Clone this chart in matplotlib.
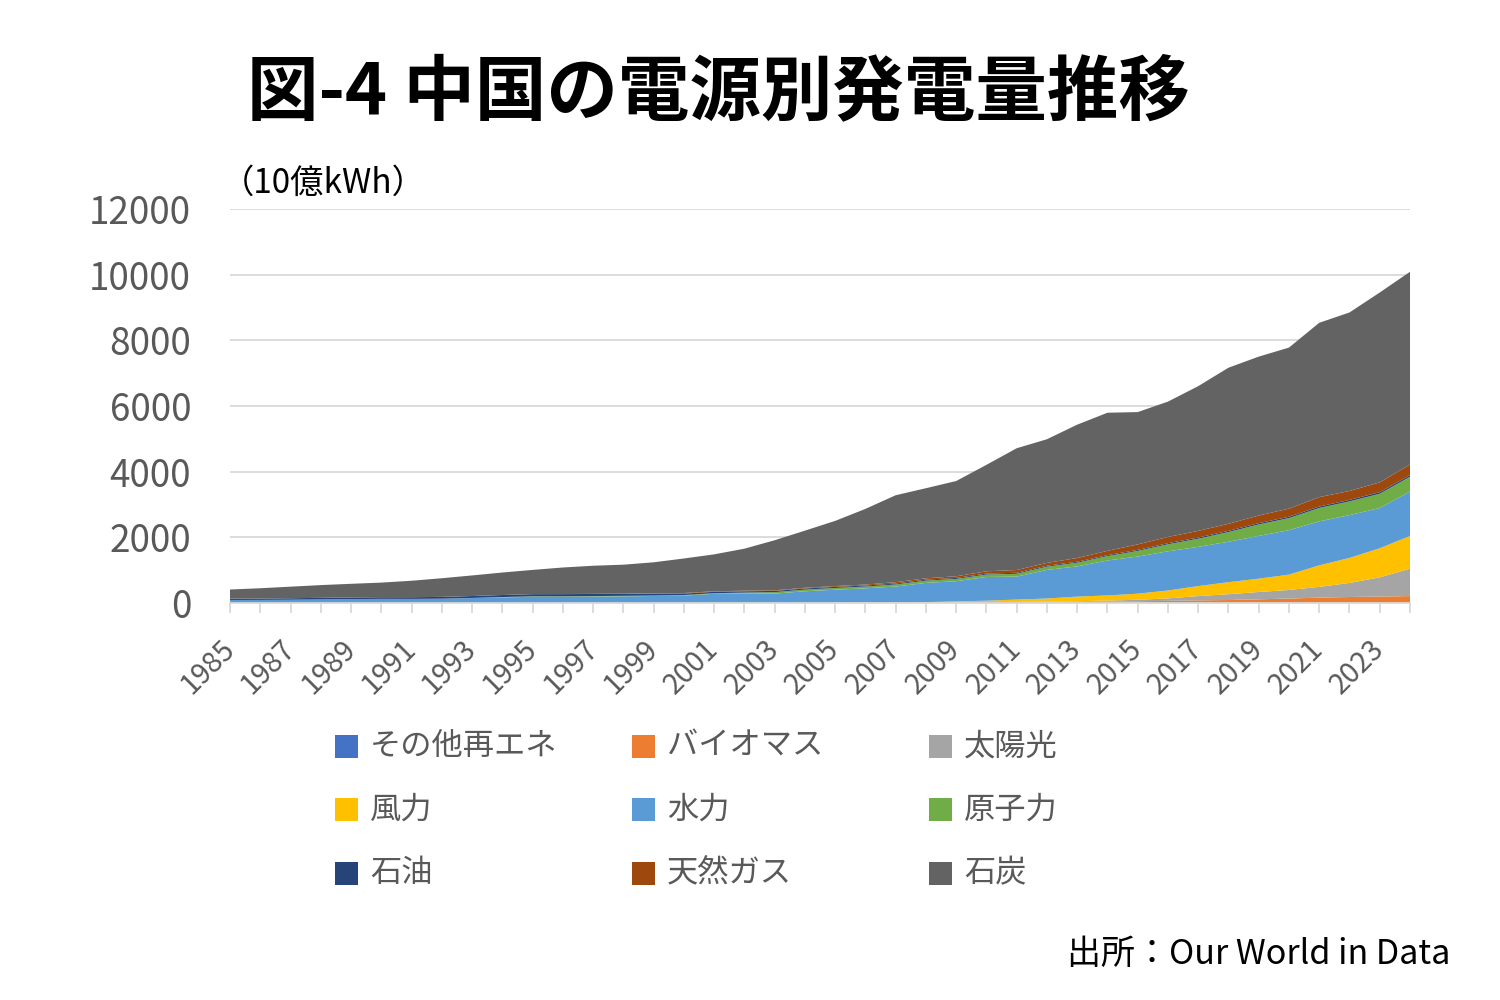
import numpy as np
import matplotlib
matplotlib.use("Agg")
from matplotlib import pyplot as plt
from matplotlib.patches import Rectangle

plt.rcParams["font.family"] = ["Noto Sans CJK JP", "DejaVu Sans"]

years = list(range(1985, 2025))

# 10億kWh (= TWh)
other_renew = [0.0] * 15 + [0.1] * 10 + [0.1, 0.1, 0.1, 0.1, 0.2, 0.2, 0.2, 0.2, 0.2, 0.3,
                                          0.3, 0.3, 0.4, 0.4, 0.5]
biomass = [0.0] * 15 + [2.4, 2.4, 2.4, 2.4, 2.4, 5.3, 7.2, 10.0, 14.0, 20.0,
                        24.8, 31.5, 33.5, 38.3, 44.6, 52.7, 64.7, 79.5, 90.6, 111.3,
                        135.5, 163.7, 182.4, 197.0, 210.0]
solar = [0.0] * 23 + [0.1, 0.3, 0.7, 2.6, 6.4, 15.5, 29.2, 45.2, 75.3, 130.7,
                      176.9, 224.0, 261.1, 327.0, 427.3, 584.2, 834.0]
wind = [0.0] * 15 + [0.6, 0.7, 0.9, 1.0, 1.3, 2.0, 3.7, 5.7, 13.1, 27.6,
                     44.6, 70.3, 95.9, 141.2, 156.1, 185.8, 240.9, 304.6, 365.8, 405.7,
                     466.5, 655.6, 762.7, 885.9, 997.0]
hydro = [92.4, 94.5, 100.0, 109.2, 118.3, 126.7, 124.8, 130.7, 151.8, 167.4,
         190.6, 188.0, 196.0, 204.3, 212.9, 222.4, 277.4, 288.0, 283.7, 353.5,
         397.0, 435.8, 485.3, 585.2, 615.6, 722.2, 698.9, 872.1, 920.3, 1064.3,
         1130.3, 1193.4, 1194.7, 1232.1, 1302.0, 1355.2, 1339.9, 1303.3, 1226.0, 1354.0]
nuclear = [0.0] * 8 + [2.5, 14.0, 12.8, 14.3, 14.4, 14.1, 14.9, 16.7, 17.5, 25.1,
                       43.3, 50.5, 53.1, 54.8, 62.1, 68.4, 70.1, 73.9, 86.4, 97.4,
                       111.6, 132.5, 171.4, 213.2, 248.1, 294.4, 348.7, 366.2, 407.5, 417.8,
                       434.7, 450.9]
oil = [40, 42, 45, 48, 50, 50, 52, 55, 58, 62,
       66, 68, 65, 60, 55, 46, 42, 40, 38, 36,
       34, 32, 30, 30, 30, 30, 30, 30, 30, 30,
       32, 34, 36, 38, 40, 42, 44, 46, 48, 50]
gas = [0] * 11 + [2, 3, 5, 15, 16, 17, 18, 18, 20,
                  24, 28, 41, 42, 50, 69, 85, 86, 113, 131,
                  167, 190, 203, 215, 233, 247, 287, 272, 298, 320]
coal = [278.3, 313.1, 352.3, 388.0, 416.4, 444.5, 500.7, 568.5, 627.2, 684.7,
        738.3, 809.0, 856.2, 883.6, 941.5, 1051.5, 1123.8, 1279.6, 1524.2, 1739.6,
        1984.9, 2304.2, 2647.5, 2743.0, 2901.1, 3242.0, 3708.3, 3766.3, 4061.7, 4206.8,
        4030.2, 4121.7, 4407.8, 4753.3, 4838.7, 4905.6, 5309.5, 5437.2, 5782.6, 5871.0]

labels = ["その他再エネ", "バイオマス", "太陽光", "風力", "水力", "原子力", "石油", "天然ガス", "石炭"]
colors = ["#4472C4", "#ED7D31", "#A5A5A5", "#FFC000", "#5B9BD5", "#70AD47",
          "#264478", "#9E480E", "#636363"]
series = [other_renew, biomass, solar, wind, hydro, nuclear, oil, gas, coal]
year_labels = [str(y) if (y - 1985) % 2 == 0 else "" for y in years]

W, H = 1500, 1000
fig = plt.figure(figsize=(15, 10), dpi=100)
ax = fig.add_axes([230 / W, 1 - 603 / H, 1180 / W, 394 / H])

ax.stackplot(years, *[np.array(s, dtype=float) for s in series],
             colors=colors, labels=labels, linewidth=0)

ax.set_xlim(1985, 2024)
ax.set_ylim(0, 12000)
ax.set_yticks(range(0, 12001, 2000))
ax.grid(axis="y", color="#d9d9d9", linewidth=1.3)
ax.set_axisbelow(True)
for side in ["top", "right", "left"]:
    ax.spines[side].set_visible(False)
ax.spines["bottom"].set_color("#d9d9d9")
ax.spines["bottom"].set_linewidth(1.3)

ax.set_xticks(years)
ax.set_xticklabels(year_labels, rotation=45, ha="right", va="center",
                   rotation_mode="anchor", fontsize=20.5, color="#595959")
ax.tick_params(axis="x", length=7, color="#d9d9d9", width=1.3, pad=23)
ax.tick_params(axis="y", length=0, pad=28, labelsize=26.5, labelcolor="#595959")

fig.text(0.4787, 0.907, "図-4 中国の電源別発電量推移", ha="center", va="center",
         fontsize=51.5, fontweight="bold", color="black")
fig.text(0.147, 0.817, "（10億kWh）", ha="left", va="center", fontsize=24, color="black")
fig.text(0.967, 0.046, "出所：Our World in Data", ha="right", va="center",
         fontsize=24.5, color="black")

# legend: 3 x 3 grid, filled row by row
for i, (lab, col) in enumerate(zip(labels, colors)):
    r, c = divmod(i, 3)
    x0 = 335 + c * 297
    yc = 746 + r * 63.5
    fig.patches.append(Rectangle((x0 / W, 1 - (yc + 11.5) / H), 23 / W, 23 / H,
                                 transform=fig.transFigure, facecolor=col,
                                 edgecolor="none"))
    fig.text((x0 + 35) / W, 1 - yc / H, lab, ha="left", va="center",
             fontsize=22.5, color="#595959")

fig.savefig("out.png", dpi=100)
